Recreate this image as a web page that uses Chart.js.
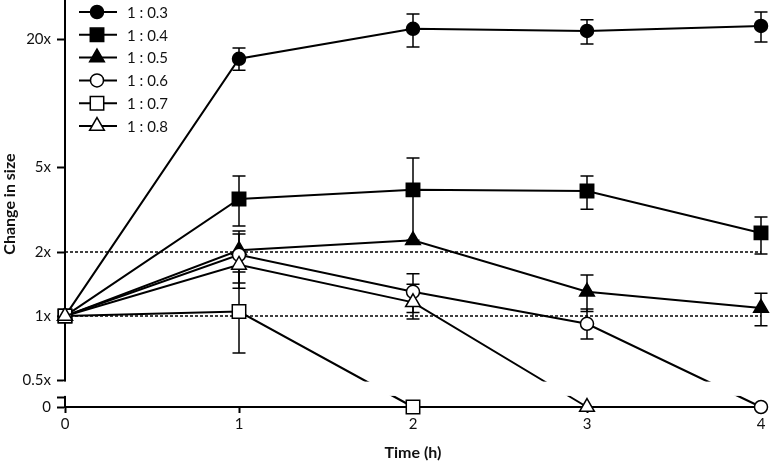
<!DOCTYPE html>
<html>
<head>
<meta charset="utf-8">
<script src="https://cdn.jsdelivr.net/npm/chart.js@4.4.1/dist/chart.umd.min.js"></script>
<style>
  body { margin: 0; background: #fff; }
</style>
</head>
<body>
<canvas id="myChart" width="770" height="462"></canvas>
<script>
const hours = [0, 1, 2, 3, 4];

// change in size (fold), 0 = gone, null = no point
const ratio03 = [1, 16.2, 22.4, 21.9, 23.1];
const ratio04 = [1, 3.55, 3.92, 3.87, 2.46];
const ratio05 = [1, 2.04, 2.27, 1.30, 1.09];
const ratio06 = [1, 1.94, 1.30, 0.92, 0];
const ratio07 = [1, 1.05, 0, null, null];
const ratio08 = [1, 1.74, 1.16, 0, null];

// error bar ends
const upper03 = [null, 18.2, 26.3, 24.7, 26.9];
const lower03 = [null, 14.3, 18.4, 19.0, 19.4];
const upper04 = [null, 4.55, 5.54, 4.55, 2.92];
const lower04 = [null, 2.65, 2.27, 3.18, 1.96];
const upper05 = [null, null, null, 1.56, 1.28];
const lower05 = [null, null, null, 1.05, 0.90];
const upper06 = [null, 2.51, 1.58, 1.08, null];
const lower06 = [null, 1.43, 1.04, 0.78, null];
const upper07 = [null, 1.61, null, null, null];
const lower07 = [null, 0.67, null, null, null];
const upper08 = [null, 2.43, 1.41, null, null];
const lower08 = [null, 1.35, 0.97, null, null];

const yTickValues = [0, 0.5, 1, 2, 5, 20];
const yTickLabels = ["0", "0.5x", "1x", "2x", "5x", "20x"];
const guideValues = [1, 2];

// y axis is log2 with a break; zero sits below the break
const ZERO_POS = -1.42;
const BREAK_LOW = -1.27;
const Y_MAX = 4.92;

function toAxis(v) {
  return v === 0 ? ZERO_POS : Math.log2(v);
}

function points(values) {
  const out = [];
  values.forEach((v, i) => {
    if (v !== null) out.push({ x: hours[i], y: toAxis(v) });
  });
  return out;
}

function series(label, values, pointStyle, filled, radius, order) {
  return {
    label: label,
    data: points(values),
    borderColor: "#000",
    borderWidth: 2,
    pointStyle: pointStyle,
    pointRadius: radius,
    pointBorderWidth: 1.5,
    pointBorderColor: "#000",
    pointBackgroundColor: filled ? "#000" : "#fff",
    tension: 0,
    clip: false,
    order: order,
  };
}

const upperBars = [upper03, upper04, upper05, upper06, upper07, upper08];
const lowerBars = [lower03, lower04, lower05, lower06, lower07, lower08];

const yTicks = [{ value: BREAK_LOW, label: "" }].concat(
  yTickValues.map((v, i) => ({ value: toAxis(v), label: yTickLabels[i] }))
);

const extras = {
  id: "extras",
  beforeDatasetsDraw(chart) {
    const { ctx, chartArea, scales: { x, y } } = chart;
    ctx.save();
    ctx.strokeStyle = "#000";
    ctx.lineWidth = 1.5;
    ctx.setLineDash([3, 2]);
    guideValues.forEach((v) => {
      const py = y.getPixelForValue(toAxis(v));
      ctx.beginPath();
      ctx.moveTo(chartArea.left, py);
      ctx.lineTo(chartArea.right, py);
      ctx.stroke();
    });
    ctx.setLineDash([]);
    upperBars.forEach((hi, s) => {
      hi.forEach((h, t) => {
        if (h === null) return;
        const px = x.getPixelForValue(hours[t]);
        const top = y.getPixelForValue(toAxis(h));
        const bot = y.getPixelForValue(toAxis(lowerBars[s][t]));
        ctx.beginPath();
        ctx.moveTo(px, top);
        ctx.lineTo(px, bot);
        ctx.moveTo(px - 6.5, top);
        ctx.lineTo(px + 6.5, top);
        ctx.moveTo(px - 6.5, bot);
        ctx.lineTo(px + 6.5, bot);
        ctx.stroke();
      });
    });
    ctx.restore();
  },
  afterDatasetsDraw(chart) {
    const { ctx, chartArea, scales: { y } } = chart;
    ctx.save();
    // axis break
    const gapTop = y.getPixelForValue(-1) + 1.5;
    const gapBot = y.getPixelForValue(BREAK_LOW) - 1.5;
    ctx.fillStyle = "#fff";
    ctx.fillRect(chartArea.left - 2, gapTop, chartArea.right - chartArea.left + 12, gapBot - gapTop);

    // legend
    chart.data.datasets.forEach((ds, i) => {
      const ly = 12 + i * 22.8;
      ctx.strokeStyle = "#000";
      ctx.lineWidth = 2;
      ctx.beginPath();
      ctx.moveTo(79, ly);
      ctx.lineTo(117, ly);
      ctx.stroke();
      ctx.fillStyle = ds.pointBackgroundColor;
      ctx.lineWidth = ds.pointBorderWidth;
      Chart.helpers.drawPoint(ctx, {
        pointStyle: ds.pointStyle,
        radius: ds.pointRadius,
        borderWidth: ds.pointBorderWidth,
        rotation: 0,
      }, 97, ly);
      ctx.fillStyle = "#111";
      ctx.font = "15px Lato";
      ctx.textBaseline = "middle";
      ctx.textAlign = "left";
      ctx.fillText(ds.label, 127, ly + 1);
    });
    ctx.restore();
  },
};

const ctx = document.getElementById("myChart").getContext("2d");

new Chart(ctx, {
  type: "line",
  data: {
    datasets: [
      series("1 : 0.3", ratio03, "circle", true, 6.5, 5),
      series("1 : 0.4", ratio04, "rect", true, 9.5, 4),
      series("1 : 0.5", ratio05, "triangle", true, 8.5, 3),
      series("1 : 0.6", ratio06, "circle", false, 6.5, 2),
      series("1 : 0.7", ratio07, "rect", false, 9.5, 1),
      series("1 : 0.8", ratio08, "triangle", false, 8.5, 0),
    ],
  },
  options: {
    responsive: false,
    animation: false,
    layout: { autoPadding: false, padding: { top: 1, right: 9, left: 0, bottom: 0 } },
    plugins: {
      legend: { display: false },
      tooltip: { enabled: false },
    },
    scales: {
      x: {
        type: "linear",
        min: 0,
        max: 4,
        ticks: { stepSize: 1, color: "#111", font: { family: "Lato", size: 15 }, padding: 2 },
        grid: { drawOnChartArea: false, tickLength: 6, tickColor: "#000", tickWidth: 2 },
        border: { color: "#000", width: 2 },
        title: {
          display: true,
          text: "Time (h)",
          color: "#111",
          font: { family: "Lato", size: 16, weight: "bold" },
          padding: 0,
        },
        afterFit: (scale) => { scale.height = 55; },
      },
      y: {
        type: "linear",
        min: ZERO_POS,
        max: Y_MAX,
        afterBuildTicks: (scale) => {
          scale.ticks = yTicks.map((t) => ({ value: t.value }));
        },
        ticks: {
          autoSkip: false,
          color: "#111",
          font: { family: "Lato", size: 15 },
          padding: 6,
          callback: (value, index) => yTicks[index].label,
        },
        grid: { drawOnChartArea: false, tickLength: 8, tickColor: "#000", tickWidth: 2 },
        border: { color: "#000", width: 2 },
        title: {
          display: true,
          text: "Change in size",
          color: "#111",
          font: { family: "Lato", size: 16, weight: "bold" },
          padding: 0,
        },
        afterFit: (scale) => {
          scale.width = 65;
          scale.paddingTop = 0;
          scale.paddingBottom = 0;
        },
      },
    },
  },
  plugins: [extras],
});
</script>
</body>
</html>
